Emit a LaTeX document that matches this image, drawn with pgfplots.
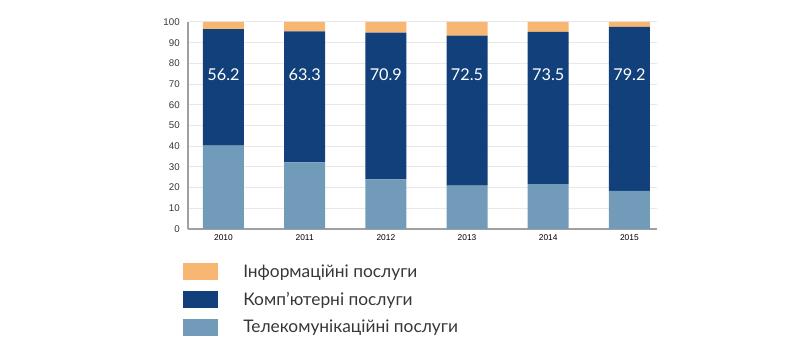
\documentclass[border=0pt]{standalone}
\usepackage{pgfplots}
\pgfplotsset{compat=1.18}
\usepackage{fontspec}
\setmainfont{Lato}
\newfontfamily\tickfont{Liberation Sans}
\definecolor{infoC}{RGB}{247,183,114}
\definecolor{compC}{RGB}{18,64,122}
\definecolor{telC}{RGB}{114,155,186}
\definecolor{gridC}{RGB}{232,232,232}
\definecolor{axC}{RGB}{160,160,160}
\definecolor{txtC}{RGB}{55,55,55}
\begin{document}
\begin{tikzpicture}
\path[use as bounding box] (0,0) rectangle (600pt,267pt);
\begin{axis}[
  at={(141pt,95.25pt)}, anchor=south west,
  scale only axis, width=351.75pt, height=155.25pt,
  ybar stacked, bar width=30.75pt,
  xmin=-0.437, xmax=5.34, ymin=0, ymax=100,
  xtick={0,1,2,3,4,5}, xticklabels={2010,2011,2012,2013,2014,2015},
  ytick={0,10,...,100},
  major tick length=0pt,
  ymajorgrids, grid style={gridC, line width=0.75pt},
  axis x line*=bottom, axis y line*=left,
  x axis line style={axC, line width=1.1pt, -},
  y axis line style={axC, line width=0.8pt, -},
  /pgf/number format/assume math mode=true,
  yticklabel style={font=\tickfont\fontsize{7.3}{8}\selectfont, text=txtC, inner sep=0pt, xshift=-6pt},
  xticklabel style={font=\tickfont\fontsize{6.3}{7}\selectfont, text=black, inner sep=0pt, yshift=-4pt},
  every axis plot post/.append style={draw=none, legend image code/.code={\fill[##1] (0pt,-6.4pt) rectangle (26.25pt,6.4pt);}},
  reverse legend,
  legend style={at={(-0.0107,-0.164)}, anchor=north west, draw=none, fill=none,
    inner sep=0pt, row sep=8pt, column sep=18.75pt,
    font=\fontsize{13}{15}\selectfont, text=txtC,
    nodes={inner sep=0pt}},
  legend cell align=left,
]
\addplot[fill=telC] coordinates {(0,40.3) (1,32.2) (2,24.0) (3,20.9) (4,21.7) (5,18.4)};
\addplot[fill=compC] coordinates {(0,56.2) (1,63.3) (2,70.9) (3,72.5) (4,73.5) (5,79.2)};
\addplot[fill=infoC] coordinates {(0,3.5) (1,4.5) (2,5.1) (3,6.6) (4,4.8) (5,2.4)};
\legend{Телекомунікаційні послуги, Комп’ютерні послуги, Інформаційні послуги}
\end{axis}
\begin{axis}[
  at={(141pt,95.25pt)}, anchor=south west,
  scale only axis, width=351.75pt, height=155.25pt,
  xmin=-0.437, xmax=5.34, ymin=0, ymax=100,
  hide axis,
]
\addplot[only marks, mark=none, draw=none,
  nodes near coords, point meta=explicit symbolic,
  every node near coord/.append style={anchor=center, text=white, font=\fontsize{12.2}{14}\selectfont}]
  coordinates {(0,74.4) [56.2] (1,74.4) [63.3] (2,74.4) [70.9] (3,74.4) [72.5] (4,74.4) [73.5] (5,74.4) [79.2]};
\end{axis}
\end{tikzpicture}
\end{document}
